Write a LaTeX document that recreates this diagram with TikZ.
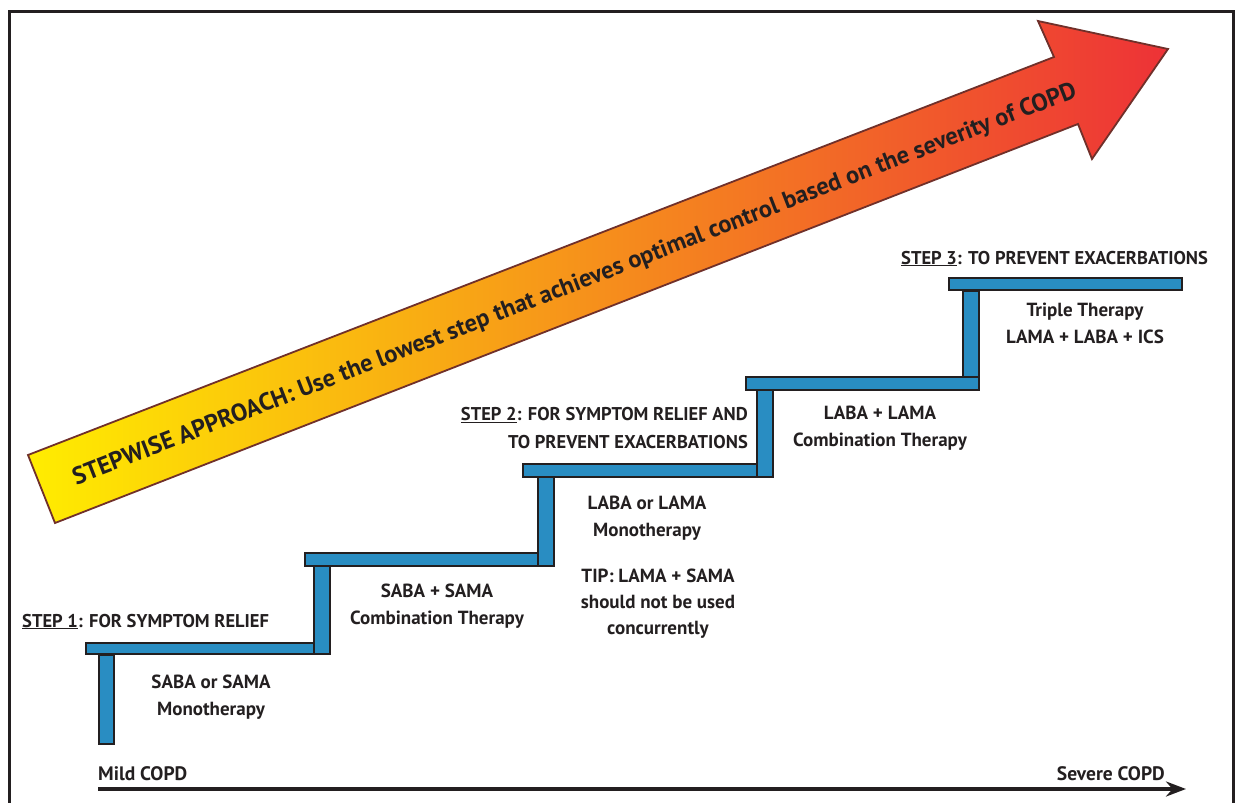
\documentclass[tikz,border=0pt]{standalone}
\usepackage{fontspec}
\setmainfont{PT Sans}
\definecolor{stairblue}{RGB}{41,141,194}
\definecolor{inkdark}{RGB}{35,31,32}
\definecolor{arrowbrown}{RGB}{112,48,42}
\definecolor{arrowyellow}{RGB}{255,237,0}
\definecolor{arroworange}{RGB}{249,178,84}
\definecolor{arrowred}{RGB}{237,50,55}
\usetikzlibrary{arrows.meta}

\begin{document}
\begin{tikzpicture}[x=1pt,y=-1pt,
  stair/.style={draw=inkdark,fill=stairblue,line width=1.2pt},
  lbl/.style={font=\bfseries\fontsize{19}{27}\selectfont,text=inkdark,align=center,inner sep=0pt},
  steplbl/.style={font=\bfseries\fontsize{18.5}{28}\selectfont,text=inkdark,inner sep=0pt},
  axislbl/.style={font=\bfseries\fontsize{19.5}{20}\selectfont,text=inkdark,inner sep=0pt}]
  \useasboundingbox (0,0) rectangle (1235,803);
  % frame
  \draw[inkdark,line width=3pt] (9,812) -- (9,11) -- (1233,11) -- (1233,812);

  % big arrow
  \path[draw=arrowbrown,line width=1.8pt,left color=arrowyellow,middle color=arroworange,right color=arrowred]
    (28,455) -- (1054,57) -- (1038,21) -- (1168,49) -- (1092,159) -- (1078,124) -- (55,523) -- cycle;
  \node[font=\bfseries\fontsize{24.4}{24}\selectfont,text=inkdark,rotate=21.2] (approach) at (575,285)
    {STEPWISE APPROACH: Use the lowest step that achieves optimal control based on the severity of COPD};

  % stairs
  \draw[stair] (99,655) rectangle (114,744);
  \draw[stair] (86,643) rectangle (314,654);
  \draw[stair] (314,565) rectangle (330,654);
  \draw[stair] (305,553) rectangle (538,566);
  \draw[stair] (538,477) rectangle (554,566);
  \draw[stair] (523,464) rectangle (757,477);
  \draw[stair] (757,390) rectangle (773,477);
  \draw[stair] (746,377) rectangle (979,390);
  \draw[stair] (963,291) rectangle (979,377);
  \draw[stair] (949,278) rectangle (1182,290);

  % step headings
  \node[steplbl,anchor=base west] (step1) at (22,627) {\underline{STEP 1}: FOR SYMPTOM RELIEF};
  \node[steplbl,align=right,anchor=east] (step2) at (748,428) {\underline{STEP 2}: FOR SYMPTOM RELIEF AND\\TO PREVENT EXACERBATIONS};
  \node[steplbl,anchor=base west] (step3) at (901,264) {\underline{STEP 3}: TO PREVENT EXACERBATIONS};

  % therapies
  \node[lbl] (mono1) at (211,697.5) {SABA or SAMA\\Monotherapy};
  \node[lbl] (combo1) at (437,606.5) {SABA + SAMA\\Combination Therapy};
  \node[lbl] (mono2) at (647,518.5) {LABA or LAMA\\Monotherapy};
  \node[lbl,font=\bfseries\fontsize{19}{26}\selectfont] (tip) at (658,604) {TIP: LAMA + SAMA\\should not be used\\concurrently};
  \node[lbl] (combo2) at (880,428) {LABA + LAMA\\Combination Therapy};
  \node[lbl] (triple) at (1085,323.5) {Triple Therapy\\LAMA + LABA + ICS};

  % severity axis
  \coordinate (mild) at (98,789);
  \coordinate (severe) at (1186,789);
  \node[axislbl,anchor=base west] (mildlbl) at (98,780) {Mild COPD};
  \node[axislbl,anchor=base east] (severelbl) at (1165,780) {Severe COPD};
  \draw[inkdark,line width=4pt,-{Stealth[length=20pt,width=15pt]}] (mild) -- (severe);
\end{tikzpicture}
\end{document}
